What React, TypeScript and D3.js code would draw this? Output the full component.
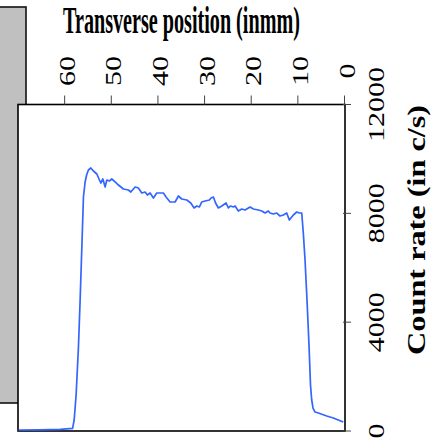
import React, { useEffect, useRef } from "react";
import * as d3 from "d3";

// transverse position (mm) and count rate (c/s)
const positionMm = [
  69.9, 65.25, 60.96, 58.29, 57.96, 57.54, 57.04, 56.68, 56.31, 55.97, 55.61,
  55.29, 54.9, 54.39, 53.83, 53.1, 52.54, 52.24, 51.81, 51.32, 50.96, 50.4,
  49.89, 49.18, 48.47, 47.4, 46.33, 45.81, 44.89, 44.19, 43.46, 42.75, 42.26,
  41.68, 40.97, 40.24, 39.54, 38.83, 38.25, 37.39, 36.32, 35.61, 34.89, 33.81,
  32.96, 32.25, 31.67, 31.11, 30.6, 29.89, 28.97, 28.61, 28.11, 27.64, 27.04,
  26.31, 25.39, 24.9, 24.43, 23.83, 23.46, 22.76, 22.03, 21.32, 20.25, 19.54,
  18.47, 17.74, 17.04, 16.33, 15.96, 15.26, 14.53, 13.82, 13.11, 12.39, 11.83,
  10.97, 10.24, 9.69, 9.17, 8.83, 8.46, 8.04, 7.61, 7.29, 7.03, 6.75, 6.32,
  5.61, 3.81, 2.4, 0.26,
];
const countRate = [
  37, 44, 62, 99, 404, 1323, 3087, 4815, 6763, 8600, 9152, 9409, 9593, 9666,
  9556, 9446, 9225, 9115, 9262, 8968, 9225, 9188, 9262, 9152, 9041, 8894, 8858,
  8784, 8968, 8931, 8747, 8784, 8674, 8747, 8564, 8747, 8747, 8747, 8600, 8417,
  8417, 8637, 8527, 8490, 8380, 8197, 8270, 8233, 8417, 8454, 8490, 8564, 8600,
  8380, 8197, 8270, 8380, 8197, 8270, 8233, 8270, 8086, 8160, 8123, 8233, 8160,
  8123, 8086, 8012, 8086, 8012, 7976, 8012, 7902, 7939, 8012, 7755, 7939, 8049,
  8012, 8012, 7277, 6285, 4815, 3161, 1691, 1139, 845, 698, 662, 551, 478, 331,
];
const xTicks = [60, 50, 40, 30, 20, 10, 0];
const yTicks = [0, 4000, 8000, 12000];
const xTitle = "Transverse position (inmm)";
const yTitle = "Count rate (in c/s)";

function App() {
  const svgRef = useRef<SVGSVGElement>(null);
  const width = 441;
  const height = 438;

  useEffect(() => {
    const svg = d3.select(svgRef.current);
    svg.selectAll("*").remove();

    const plot = { left: 18, right: 345, top: 104.5, bottom: 431 };

    const x = d3.scaleLinear().domain([70, 0]).range([plot.left, 344.5]);
    const y = d3.scaleLinear().domain([0, 12000]).range([plot.bottom, plot.top]);

    // grey panel behind the plot
    svg
      .append("rect")
      .attr("x", -5)
      .attr("y", 7)
      .attr("width", 31)
      .attr("height", 396)
      .style("fill", "#c0c0c0")
      .style("stroke", "#111")
      .style("stroke-width", 1.6);

    svg
      .append("rect")
      .attr("x", plot.left)
      .attr("y", plot.top)
      .attr("width", plot.right - plot.left)
      .attr("height", plot.bottom - plot.top)
      .style("fill", "white")
      .style("stroke", "#000")
      .style("stroke-width", 1.6);

    // title, squeezed horizontally like the original
    const title = svg
      .append("text")
      .attr("x", 0)
      .attr("y", 0)
      .style("font-family", "'Liberation Serif', serif")
      .style("font-weight", "bold")
      .style("font-size", "37px")
      .text(xTitle);
    const natural = (title.node() as SVGTextElement).getComputedTextLength() || 440;
    title.attr("transform", `translate(63,33) scale(${237 / natural},1)`);

    // top axis
    svg
      .selectAll(".xtick")
      .data(xTicks)
      .join("line")
      .attr("class", "xtick")
      .attr("x1", (d) => x(d))
      .attr("x2", (d) => x(d))
      .attr("y1", plot.top)
      .attr("y2", plot.top - 9)
      .style("stroke", "#444")
      .style("stroke-width", 1);

    svg
      .selectAll(".xlabel")
      .data(xTicks)
      .join("text")
      .attr("class", "xlabel")
      .attr("transform", (d) => `translate(${x(d) + 10},71) rotate(-90)`)
      .attr("text-anchor", "middle")
      .attr("textLength", (d) => String(d).length * 15)
      .attr("lengthAdjust", "spacingAndGlyphs")
      .style("font-family", "'Liberation Serif', serif")
      .style("font-size", "23px")
      .text((d) => d);

    // right axis
    svg
      .selectAll(".ytick")
      .data(yTicks)
      .join("line")
      .attr("class", "ytick")
      .attr("x1", plot.right - 2)
      .attr("x2", plot.right + 6)
      .attr("y1", (d) => y(d))
      .attr("y2", (d) => y(d))
      .style("stroke", "#444")
      .style("stroke-width", 1);

    svg
      .selectAll(".ylabel")
      .data(yTicks)
      .join("text")
      .attr("class", "ylabel")
      .attr("transform", (d) => `translate(384,${y(d)}) rotate(-90)`)
      .attr("text-anchor", "middle")
      .attr("textLength", (d) => String(d).length * 15)
      .attr("lengthAdjust", "spacingAndGlyphs")
      .style("font-family", "'Liberation Serif', serif")
      .style("font-size", "23px")
      .text((d) => d);

    svg
      .append("text")
      .attr("transform", "translate(425,230) rotate(-90)")
      .attr("text-anchor", "middle")
      .attr("textLength", 250)
      .attr("lengthAdjust", "spacingAndGlyphs")
      .style("font-family", "'Liberation Serif', serif")
      .style("font-weight", "bold")
      .style("font-size", "26px")
      .text(yTitle);

    // scan curve
    const points: [number, number][] = positionMm.map((p, i) => [p, countRate[i]]);
    const line = d3
      .line<[number, number]>()
      .x((d) => x(d[0]))
      .y((d) => y(d[1]));

    svg
      .append("path")
      .datum(points)
      .attr("d", line)
      .style("fill", "none")
      .style("stroke", "#3366ff")
      .style("stroke-width", 1.7)
      .style("stroke-linejoin", "round");
  }, []);

  return (
    <svg
      ref={svgRef}
      width={width}
      height={height}
      style={{ position: "absolute", left: 0, top: 0 }}
    ></svg>
  );
}

export default App;
